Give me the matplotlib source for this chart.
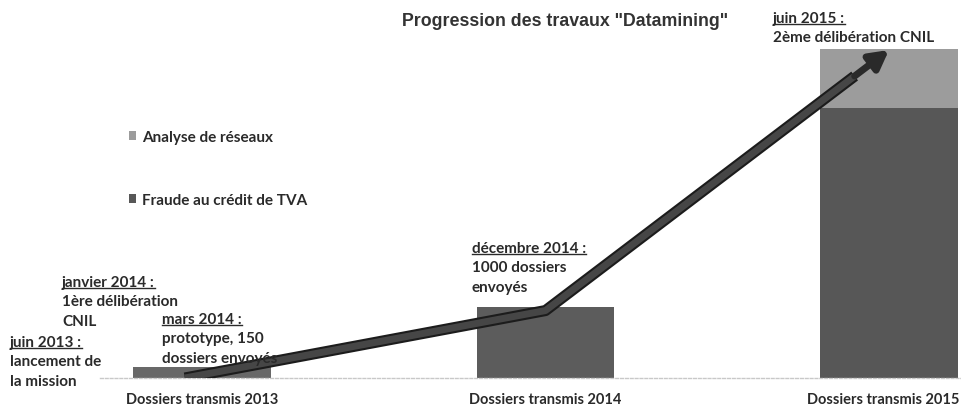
import matplotlib
matplotlib.use("Agg")
import matplotlib.pyplot as plt
from matplotlib.patches import Patch
from matplotlib.lines import Line2D
from matplotlib.transforms import ScaledTranslation

# ---- data ----
categories = ["Dossiers transmis 2013", "Dossiers transmis 2014", "Dossiers transmis 2015"]
fraude_tva = [150, 1000, 3800]
analyse_reseaux = [0, 0, 830]
trend_x = [-0.05, 1.0, 2.0]
trend_y = [0, 950, 4620]
title = 'Progression des travaux "Datamining"'

W, H = 962, 410
fig = plt.figure(figsize=(W / 100, H / 100), dpi=100)
fig.patch.set_facecolor("white")

def fx(px):
    return px / W

def fy(py):
    return 1 - py / H

ax = fig.add_axes([fx(100), fy(379), fx(962) - fx(100), fy(24) - fy(379)])
ax.set_xlim(-0.297, 2.2125)
ax.set_ylim(0, 5000)

FONT = ["Lato", "DejaVu Sans"]
TXT = "#2a2a2a"

dark = "#575757"
light = "#9c9c9c"
x = list(range(len(categories)))
ax.bar(x, fraude_tva, width=0.4, color=["#686868", "#5c5c5c", dark], zorder=2)
ax.bar(x, analyse_reseaux, width=0.4, bottom=fraude_tva, color=light, zorder=2)

# trend arrow: line through the points, arrowhead on the last segment
frac = 0.9
bx = trend_x[-2] + (trend_x[-1] - trend_x[-2]) * frac
by = trend_y[-2] + (trend_y[-1] - trend_y[-2]) * frac
px_ = trend_x[:-1] + [bx]
py_ = trend_y[:-1] + [by]
ax.plot(px_, py_, color="#1c1c1c", lw=8, solid_capstyle="butt",
        solid_joinstyle="round", zorder=4)
ax.plot(px_, py_, color="#464646", lw=5, solid_capstyle="butt",
        solid_joinstyle="round", zorder=5)
ax.annotate("", xy=(trend_x[-1], trend_y[-1]), xytext=(bx, by),
            arrowprops=dict(arrowstyle="-|>,head_length=1.1,head_width=0.6",
                            color="#2a2a2a", lw=5, shrinkA=0, shrinkB=0), zorder=6)

for s in ["top", "right", "left"]:
    ax.spines[s].set_visible(False)
ax.spines["bottom"].set_color("#c8c8c8")
ax.spines["bottom"].set_linestyle((0, (2, 1.5)))
ax.spines["bottom"].set_linewidth(1.0)
ax.set_yticks([])
ax.set_xticks(x)
ax.set_xticklabels(categories, fontsize=10.5, fontweight="bold", color=TXT, family=FONT)
ax.tick_params(axis="x", length=0, pad=10)
last = ax.get_xticklabels()[-1]
last.set_transform(last.get_transform() + ScaledTranslation(-6 / 100, 0, fig.dpi_scale_trans))

# legend
handles = [Patch(facecolor=light, edgecolor="none", label="Analyse de réseaux"),
           Patch(facecolor=dark, edgecolor="none", label="Fraude au crédit de TVA")]
leg = fig.legend(handles=handles, loc="upper left", bbox_to_anchor=(fx(115), fy(117)),
                 frameon=False, handlelength=0.5, handleheight=0.5, handletextpad=0.4,
                 labelspacing=3.2, prop=dict(family=FONT, weight="bold", size=11))
for t in leg.get_texts():
    t.set_color(TXT)

# title
fig.text(fx(565), fy(22), title, ha="center", va="center", fontsize=12.8,
         fontweight="bold", color="#333333", family=["Liberation Sans", "DejaVu Sans"])

# annotations
notes = [
    (10, 343, ["juin 2013 :", "lancement de", "la mission"]),
    (62, 283, ["janvier 2014 :", "1ère délibération", "CNIL"]),
    (162, 320, ["mars 2014 :", "prototype, 150", "dossiers envoyés"]),
    (472, 249, ["décembre 2014 :", "1000 dossiers", "envoyés"]),
    (773, 19, ["juin 2015 :", "2ème délibération CNIL"]),
]
fig.canvas.draw()
renderer = fig.canvas.get_renderer()
for px, py, lines in notes:
    for i, line in enumerate(lines):
        t = fig.text(fx(px), fy(py + i * 19.5), line, ha="left", va="center",
                     fontsize=11, fontweight="bold", color=TXT, family=FONT)
        if i == 0:
            bb = t.get_window_extent(renderer=renderer)
            yl = bb.y0 + 1
            fig.add_artist(Line2D([bb.x0 / W, bb.x1 / W], [yl / H, yl / H],
                                  transform=fig.transFigure, color=TXT, lw=1.0))

fig.savefig("out.png", dpi=100, facecolor="white")
